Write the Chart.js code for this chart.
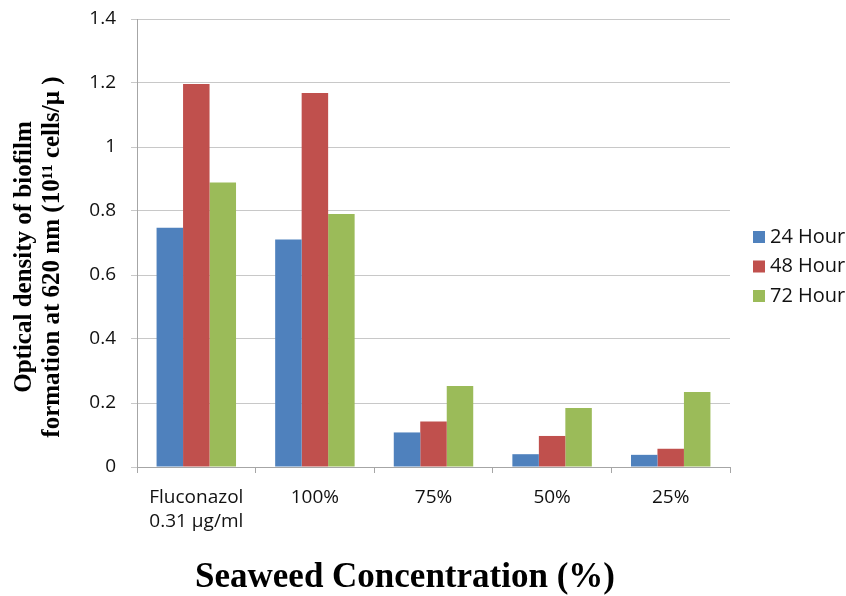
<!DOCTYPE html>
<html>
<head>
<meta charset="utf-8">
<script src="https://cdn.jsdelivr.net/npm/chart.js@4.4.1/dist/chart.umd.min.js"></script>
<style>
  html, body { margin: 0; padding: 0; background: #fff; }
  #wrap { width: 846px; height: 596px; }
</style>
</head>
<body>
<div id="wrap"><canvas id="chart" width="846" height="596"></canvas></div>
<script>
// data
const categories = [['Fluconazol', '0.31 µg/ml'], '100%', '75%', '50%', '25%'];
const seriesNames = ['24 Hour', '48 Hour', '72 Hour'];
const hour24 = [0.748, 0.711, 0.108, 0.040, 0.038];
const hour48 = [1.197, 1.169, 0.142, 0.097, 0.057];
const hour72 = [0.889, 0.791, 0.253, 0.184, 0.234];
const yTicks = [0, 0.2, 0.4, 0.6, 0.8, 1, 1.2, 1.4];
const yTickLabels = ['0', '0.2', '0.4', '0.6', '0.8', '1', '1.2', '1.4'];
const xTitle = 'Seaweed Concentration (%)';
const yTitle = ['Optical density of biofilm', 'formation at 620 nm (10¹¹ cells/µ )'];

const colors = ['#4F81BD', '#C0504D', '#9BBB59'];
const tickFont = { family: 'Open Sans', size: 19 };

// legend and axis titles drawn by hand so they sit where the original ones are
const extras = {
  id: 'extras',
  afterDraw(chart) {
    const ctx = chart.ctx;
    ctx.save();
    ctx.font = '20px "Open Sans"';
    ctx.textBaseline = 'middle';
    chart.data.datasets.forEach((ds, i) => {
      const y = 237 + i * 29.5;
      ctx.fillStyle = ds.backgroundColor;
      ctx.fillRect(753, y - 6, 12, 12);
      ctx.fillStyle = '#111';
      ctx.fillText(ds.label, 770, y);
    });

    ctx.fillStyle = '#000';
    ctx.textAlign = 'center';
    ctx.font = 'bold 35px "Liberation Serif"';
    ctx.fillText(xTitle, 405, 578);

    ctx.font = 'bold 25px "Liberation Serif"';
    ctx.translate(0, 257);
    ctx.rotate(-Math.PI / 2);
    ctx.fillText(yTitle[0], 0, 25);
    ctx.fillText(yTitle[1], 0, 53);
    ctx.restore();
  }
};

new Chart(document.getElementById('chart'), {
  type: 'bar',
  data: {
    labels: categories,
    datasets: [hour24, hour48, hour72].map((vals, i) => ({
      label: seriesNames[i],
      data: vals,
      backgroundColor: colors[i],
      borderWidth: 0,
      categoryPercentage: 0.67,
      barPercentage: 1.0
    }))
  },
  options: {
    responsive: false,
    animation: false,
    layout: { padding: { top: 19, right: 116, left: 0, bottom: 0 } },
    plugins: {
      legend: { display: false },
      tooltip: { enabled: false }
    },
    scales: {
      x: {
        grid: { display: true, drawOnChartArea: false, drawTicks: true, tickLength: 6, color: '#a6a6a6', offset: true },
        border: { color: '#a6a6a6' },
        ticks: { font: { ...tickFont, lineHeight: 1.3 }, color: '#111', padding: 12, maxRotation: 0 },
        afterFit(scale) { scale.height = 129; }
      },
      y: {
        min: 0,
        max: 1.4,
        afterBuildTicks(scale) { scale.ticks = yTicks.map(v => ({ value: v })); },
        grid: { color: '#c8c8c8', tickLength: 6 },
        border: { color: '#a6a6a6' },
        ticks: {
          font: { ...tickFont, lineHeight: 0.3 },
          color: '#111',
          padding: 15,
          callback: (v, i) => yTickLabels[i]
        },
        afterFit(scale) { scale.width = 137; }
      }
    }
  },
  plugins: [extras]
});
</script>
</body>
</html>
